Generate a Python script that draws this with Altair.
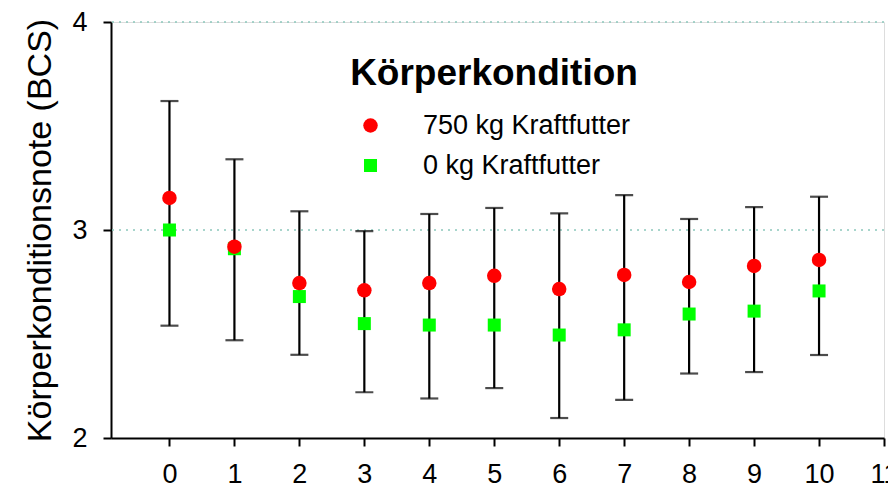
import altair as alt
import pandas as pd

days = list(range(11))
series_names = ["750 kg Kraftfutter", "0 kg Kraftfutter"]
bcs_750 = [3.154, 2.92, 2.745, 2.71, 2.745, 2.78, 2.716, 2.784, 2.75, 2.827, 2.856]
bcs_0 = [3.00, 2.91, 2.68, 2.55, 2.543, 2.543, 2.495, 2.52, 2.596, 2.61, 2.707]
err_upper = [3.62, 3.34, 3.09, 2.995, 3.077, 3.106, 3.08, 3.168, 3.053, 3.11, 3.16]
err_lower = [2.54, 2.47, 2.40, 2.22, 2.19, 2.24, 2.096, 2.183, 2.31, 2.317, 2.399]
x_ticks = list(range(12))
y_ticks = [2.0, 3.0, 4.0]
grid_lines = [3.0, 4.0]

FONT = "Liberation Sans"

err_df = pd.DataFrame({"x": days, "lo": err_lower, "hi": err_upper})
pts_df = pd.DataFrame({
    "x": days + days,
    "y": bcs_0 + bcs_750,
    "Gruppe": [series_names[1]] * len(days) + [series_names[0]] * len(days),
})
grid_df = pd.DataFrame({"g": grid_lines})

xs = alt.Scale(domain=[-0.9, 11], nice=False, zero=False)
ys = alt.Scale(domain=[2, 4], nice=False, zero=False)

x_axis = alt.Axis(values=x_ticks, title=None, grid=False, labelExpr="format(datum.value, 'd')")
y_axis = alt.Axis(values=y_ticks, title="Körperkonditionsnote (BCS)", grid=False,
                  labelOverlap=False, labelExpr="format(datum.value, 'd')")

X = lambda f: alt.X(f, scale=xs, axis=x_axis)
Y = lambda f: alt.Y(f, scale=ys, axis=y_axis)

grid = alt.Chart(grid_df).mark_rule(color="#8cc8bc", strokeDash=[2, 5], strokeWidth=1.3).encode(
    y=Y("g:Q"),
)
rule = alt.Chart(err_df).mark_rule(color="black", strokeWidth=2.2).encode(
    x=X("x:Q"), y=Y("lo:Q"), y2="hi:Q",
)
cap_hi = alt.Chart(err_df).mark_tick(color="black", orient="horizontal", size=18, thickness=2.2).encode(
    x=X("x:Q"), y=Y("hi:Q")
)
cap_lo = alt.Chart(err_df).mark_tick(color="black", orient="horizontal", size=18, thickness=2.2).encode(
    x=X("x:Q"), y=Y("lo:Q")
)

legend = alt.Legend(
    title="Körperkondition", orient="none", legendX=239, legendY=34,
    titleFontSize=37, titleFont=FONT, titleFontWeight="bold", titleColor="black",
    titleAnchor="middle", titlePadding=19, titleLimit=0, labelLimit=0,
    labelFontSize=27, labelFont=FONT, labelColor="black", labelOffset=39,
    rowPadding=12, padding=0, symbolStrokeWidth=0,
)

points = alt.Chart(pts_df).mark_point(filled=True, opacity=1, strokeWidth=0).encode(
    x=X("x:Q"),
    y=Y("y:Q"),
    color=alt.Color("Gruppe:N", scale=alt.Scale(domain=series_names, range=["#ff0000", "#00ff00"]), legend=legend),
    shape=alt.Shape("Gruppe:N", scale=alt.Scale(domain=series_names, range=["circle", "square"]), legend=legend),
    size=alt.Size("Gruppe:N", scale=alt.Scale(domain=series_names, range=[210, 169]), legend=legend),
)

chart = alt.layer(grid, rule, cap_hi, cap_lo, points).properties(
    width=773, height=416,
    autosize=alt.AutoSizeParams(type="none"),
    padding={"left": 103, "top": 14, "right": 4, "bottom": 70},
).configure_view(stroke="black", strokeWidth=2).configure(background="white"
).configure_axis(
    labelFont=FONT, labelFontSize=27, labelColor="black", labelFlush=False,
    labelOverlap=False, domainColor="black", domainWidth=2, tickColor="black",
    tickWidth=2, tickSize=8, titleFont=FONT, titleFontSize=34,
    titleFontWeight="normal", titleColor="black",
).configure_axisX(labelPadding=15).configure_axisY(
    labelPadding=16, titlePadding=14,
)

chart.save("out.html", embed_options={"renderer": "svg", "actions": False})
